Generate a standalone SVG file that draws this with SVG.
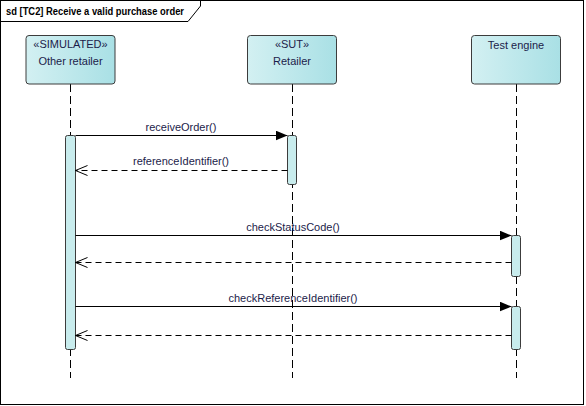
<svg xmlns="http://www.w3.org/2000/svg" width="586" height="406" viewBox="0 0 586 406">
<defs>
<linearGradient id="lg" x1="0" y1="0" x2="1" y2="0">
<stop offset="0" stop-color="#d3f0f2"/>
<stop offset="1" stop-color="#a9e0e5"/>
</linearGradient>
<marker id="filled" viewBox="0 0 12 10" refX="12" refY="5" markerWidth="12" markerHeight="10" markerUnits="userSpaceOnUse" orient="auto">
<path d="M0,0 L12,5 L0,10 Z" fill="#000"/>
</marker>
<marker id="open" viewBox="0 0 14 12" refX="13" refY="6" markerWidth="14" markerHeight="12" markerUnits="userSpaceOnUse" orient="auto">
<path d="M1,1 L13,6 L1,11" fill="none" stroke="#000" stroke-width="1"/>
</marker>
</defs>
<style>
text{font-family:"Liberation Sans",Arial,sans-serif;font-size:11px;fill:#1c1c4a}
.box{fill:url(#lg);stroke:#3c3c3c;stroke-width:1}
.life{stroke:#000;stroke-width:1;stroke-dasharray:8,4;fill:none}
.act{fill:#c8eced;stroke:#3c3c3c;stroke-width:1}
.msg{stroke:#000;stroke-width:1;fill:none}
.ret{stroke:#000;stroke-width:1;fill:none;stroke-dasharray:6,4}
</style>
<rect x="0.5" y="0.5" width="583" height="404" fill="#fff" stroke="#000" stroke-width="1"/>
<g id="frame-title">
<path d="M0.5,21.5 L188,21.5 L200.5,6 L200.5,0.5" fill="none" stroke="#000" stroke-width="1"/>
<text x="6" y="15" textLength="178" lengthAdjust="spacingAndGlyphs" style="font-weight:bold;font-size:10.5px;fill:#000">sd [TC2] Receive a valid purchase order</text>
</g>
<g id="lifeline-other">
<line class="life" x1="70.5" y1="84" x2="70.5" y2="378"/>
<rect class="box" x="26" y="35.5" width="89" height="48.5" rx="3"/>
<text x="70.5" y="48" text-anchor="middle">«SIMULATED»</text>
<text x="70.5" y="65" text-anchor="middle">Other retailer</text>
<rect class="act" x="65.5" y="135.5" width="10" height="214" rx="2"/>
</g>
<g id="lifeline-retailer">
<line class="life" x1="292.5" y1="84" x2="292.5" y2="378"/>
<rect class="box" x="247.5" y="35.5" width="89" height="48.5" rx="3"/>
<text x="292" y="48" text-anchor="middle">«SUT»</text>
<text x="292" y="65" text-anchor="middle">Retailer</text>
<rect class="act" x="287.5" y="135.5" width="9" height="49" rx="2"/>
</g>
<g id="lifeline-test">
<line class="life" x1="516.5" y1="84" x2="516.5" y2="378"/>
<rect class="box" x="471.5" y="35.5" width="89" height="48.5" rx="3"/>
<text x="516" y="49" text-anchor="middle">Test engine</text>
<rect class="act" x="511.5" y="235.5" width="9" height="41" rx="2"/>
<rect class="act" x="511.5" y="306.5" width="9" height="43" rx="2"/>
</g>
<g id="connectors">
<line class="msg" x1="75.5" y1="135.5" x2="287.5" y2="135.5" marker-end="url(#filled)"/>
<text x="181" y="131" text-anchor="middle">receiveOrder()</text>
<line class="ret" x1="287.5" y1="170.5" x2="75.5" y2="170.5" marker-end="url(#open)"/>
<text x="181" y="165" text-anchor="middle">referenceIdentifier()</text>
<line class="msg" x1="75.5" y1="235.5" x2="511.5" y2="235.5" marker-end="url(#filled)"/>
<text x="293" y="231" text-anchor="middle">checkStatusCode()</text>
<line class="ret" x1="511.5" y1="262.5" x2="75.5" y2="262.5" marker-end="url(#open)"/>
<line class="msg" x1="75.5" y1="306.5" x2="511.5" y2="306.5" marker-end="url(#filled)"/>
<text x="293" y="302" text-anchor="middle">checkReferenceIdentifier()</text>
<line class="ret" x1="511.5" y1="335.5" x2="75.5" y2="335.5" marker-end="url(#open)"/>
</g>
</svg>
